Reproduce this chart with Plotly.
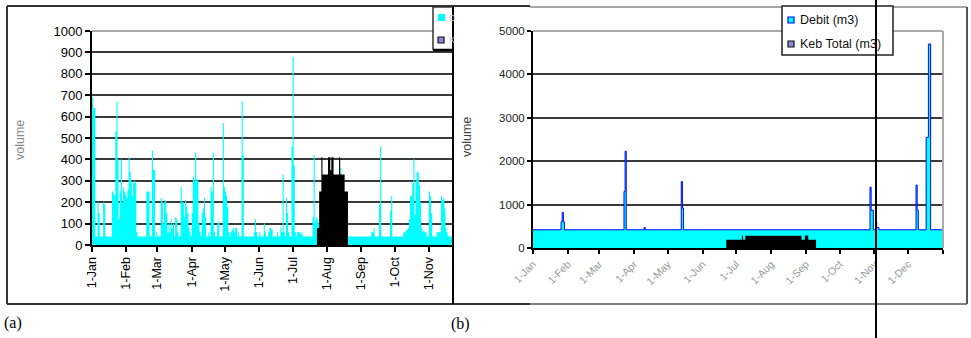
import plotly.graph_objects as go
import pandas as pd

W, H = 971, 338

# ---------------- Panel (a): daily volumes from 1-Jan ----------------
a_start = "2001-01-01"
a_debit = (
    # Jan
    [690, 640, 640, 40, 40, 200, 150, 40, 40, 40, 200, 190, 40, 40, 40, 40, 40, 40,
     250, 240, 230, 530, 670, 400, 120, 250, 400, 200, 270, 250, 240]
    # Feb
    + [220, 260, 410, 340, 300, 230, 290, 300, 290, 60, 40, 40, 40, 40, 40, 40, 40, 40,
       250, 250, 250, 40, 40, 440, 350, 350, 40, 60]
    # Mar
    + [40, 40, 40, 220, 200, 100, 200, 210, 150, 60, 100, 60, 120, 80, 100, 40, 130, 120,
       60, 40, 40, 270, 200, 200, 130, 210, 180, 150, 80, 60, 40]
    # Apr
    + [150, 320, 300, 430, 310, 300, 100, 60, 40, 150, 170, 220, 130, 40, 40, 60, 40, 270,
       250, 430, 60, 40, 40, 100, 110, 40, 40, 40, 570, 270]
    # May
    + [250, 230, 180, 60, 40, 60, 70, 80, 60, 80, 80, 40, 60, 40, 40, 670, 420, 40, 40, 40,
       40, 40, 40, 40, 40, 40, 60, 120, 60, 40, 40]
    # Jun
    + [60, 40, 40, 40, 100, 60, 40, 40, 60, 80, 80, 70, 40, 40, 40, 40, 60, 40, 40, 80, 60,
       330, 60, 40, 220, 150, 60, 40, 40, 460]
    # Jul
    + [880, 370, 60, 40, 60, 60, 60, 50, 60, 40, 40, 40, 40, 40, 40, 40, 40, 40, 130, 420,
       110, 130, 120, 100, 40, 40, 40, 40, 40, 40, 40]
    # Aug
    + [40, 40, 40, 40, 40, 40, 40, 40, 40, 40, 40, 40, 360, 40, 40, 40, 40, 40, 40, 40, 40,
       40, 40, 40, 40, 40, 40, 40, 40, 40, 40]
    # Sep
    + [40, 40, 40, 40, 40, 40, 40, 40, 40, 60, 60, 80, 40, 40, 40, 40, 190, 460, 40, 40, 40,
       40, 40, 40, 40, 40, 160, 230, 40, 40]
    # Oct
    + [40, 40, 40, 40, 40, 40, 40, 40, 60, 60, 70, 70, 80, 120, 230, 230, 290, 400, 140, 300,
       340, 340, 280, 200, 80, 60, 70, 60, 60, 40, 40]
    # Nov (visible part)
    + [250, 230, 150, 40, 40, 40, 40, 60, 60, 60, 60, 230, 210, 220, 170, 80, 60, 40, 40, 40,
       40, 40]
)
a_keb_start = "2001-07-23"
a_keb = [80, 80, 250, 250, 410, 330, 330, 330, 330, 330, 410, 410, 350, 410, 410, 330, 330,
         330, 330, 330, 410, 330, 330, 330, 330, 250, 250, 250]

a_tick_dates = ["2001-01-01", "2001-02-01", "2001-03-01", "2001-04-01", "2001-05-01",
                "2001-06-01", "2001-07-01", "2001-08-01", "2001-09-01", "2001-10-01",
                "2001-11-01"]
a_tick_labels = ["1-Jan", "1-Feb", "1-Mar", "1-Apr", "1-May", "1-Jun", "1-Jul", "1-Aug",
                 "1-Sep", "1-Oct", "1-Nov"]

# ---------------- Panel (b): change points of step series ----------------
b_debit_dates = ["2001-01-01", "2001-01-26", "2001-01-27", "2001-01-28", "2001-01-29",
                 "2001-03-23", "2001-03-24", "2001-03-25", "2001-04-10", "2001-04-11",
                 "2001-05-13", "2001-05-14", "2001-05-15", "2001-10-28", "2001-10-29",
                 "2001-10-31", "2001-11-02", "2001-11-03", "2001-11-05", "2001-12-08",
                 "2001-12-09", "2001-12-10", "2001-12-17", "2001-12-19", "2001-12-21",
                 "2002-01-01"]
b_debit_vals = [420, 600, 820, 600, 420, 1300, 2230, 420, 470, 420, 1530, 920, 420, 1400,
                870, 420, 600, 470, 420, 1450, 870, 420, 2550, 4700, 420, 420]
b_keb_dates = ["2001-06-22", "2001-07-06", "2001-07-07", "2001-07-09", "2001-08-28",
               "2001-08-31", "2001-09-03", "2001-09-10"]
b_keb_vals = [190, 290, 190, 280, 190, 290, 190, 0]

b_tick_dates = ["2001-01-01", "2001-02-01", "2001-03-01", "2001-04-01", "2001-05-01",
                "2001-06-01", "2001-07-01", "2001-08-01", "2001-09-01", "2001-10-01",
                "2001-11-01", "2001-12-01", "2002-01-01"]
b_tick_labels = ["1-Jan", "1-Feb", "1-Mar", "1-Apr", "1-May", "1-Jun", "1-Jul", "1-Aug",
                 "1-Sep", "1-Oct", "1-Nov", "1-Dec", ""]

legend_names = ["Debit (m3)", "Keb Total (m3)"]


def px(x):
    return x / W


def py(y):
    return 1 - y / H


def daily_step(start, vals):
    d = pd.date_range(start, periods=len(vals) + 1, freq="D")
    return list(d), list(vals) + [vals[-1]]


fig = go.Figure()

# panel (a)
xa, ya = daily_step(a_start, a_debit)
fig.add_trace(go.Scatter(x=xa, y=ya, mode="lines", line=dict(width=0, shape="hv"),
                         fill="tozeroy", fillcolor="#00FFFF", xaxis="x", yaxis="y",
                         showlegend=False, hoverinfo="skip"))
xk, yk = daily_step(a_keb_start, a_keb)
fig.add_trace(go.Scatter(x=xk, y=yk, mode="lines", line=dict(width=0, shape="hv"),
                         fill="tozeroy", fillcolor="#000000", xaxis="x", yaxis="y",
                         showlegend=False, hoverinfo="skip"))

# panel (b)
fig.add_trace(go.Scatter(x=pd.to_datetime(b_debit_dates), y=b_debit_vals, mode="lines",
                         line=dict(width=1, shape="hv", color="#0000FF"),
                         fill="tozeroy", fillcolor="#00FFFF", xaxis="x2", yaxis="y2",
                         showlegend=False, hoverinfo="skip"))
fig.add_trace(go.Scatter(x=pd.to_datetime(b_keb_dates), y=b_keb_vals, mode="lines",
                         line=dict(width=0, shape="hv"),
                         fill="tozeroy", fillcolor="#000000", xaxis="x2", yaxis="y2",
                         showlegend=False, hoverinfo="skip"))

FONT = "Liberation Sans, Arial, sans-serif"

fig.update_layout(
    width=W, height=H,
    margin=dict(l=0, r=0, t=0, b=0, autoexpand=False),
    paper_bgcolor="white", plot_bgcolor="white",
    showlegend=False,
    font=dict(family=FONT, color="black"),
    xaxis=dict(type="date", domain=[px(92), px(453)], automargin=False,
               range=["2001-01-01", "2001-11-22 19:00"], anchor="y",
               tickmode="array", tickvals=a_tick_dates, ticktext=a_tick_labels,
               tickangle=-90, ticks="outside", ticklen=5, tickwidth=1.5, tickcolor="black",
               showline=True, linecolor="black", linewidth=2, showgrid=False, zeroline=False,
               tickfont=dict(size=12.5, color="black", family=FONT)),
    yaxis=dict(domain=[py(245), py(31)], range=[0, 1000], dtick=100, anchor="x",
               automargin=False,
               ticks="outside", ticklen=5, tickwidth=1.5, tickcolor="black",
               showline=True, linecolor="black", linewidth=2,
               showgrid=True, gridcolor="#3a3a3a", gridwidth=2, zeroline=False,
               tickfont=dict(size=13, color="black", family=FONT)),
    xaxis2=dict(type="date", domain=[px(533), px(943)], automargin=False,
                range=["2001-01-01", "2002-01-01"], anchor="y2",
                tickmode="array", tickvals=b_tick_dates, ticktext=b_tick_labels,
                tickangle=-45, ticks="outside", ticklen=4, tickwidth=1.5, tickcolor="black",
                showline=True, linecolor="black", linewidth=2, showgrid=False, zeroline=False,
                tickfont=dict(size=10.5, color="#999999", family=FONT)),
    yaxis2=dict(domain=[py(248), py(31)], range=[0, 5000], dtick=1000, anchor="x2",
                automargin=False,
                ticks="outside", ticklen=4, tickwidth=1.5, tickcolor="black",
                showline=True, linecolor="black", linewidth=2,
                showgrid=True, gridcolor="#3a3a3a", gridwidth=2, zeroline=False,
                tickfont=dict(size=11.5, color="#222222", family=FONT)),
)

shapes = []
# panel (a) frame (top/bottom lines run under panel (b) edge)
shapes.append(dict(type="line", xref="paper", yref="paper", x0=px(7), x1=px(530),
                   y0=py(6), y1=py(6), line=dict(color="#333333", width=2)))
shapes.append(dict(type="line", xref="paper", yref="paper", x0=px(7), x1=px(530),
                   y0=py(304), y1=py(304), line=dict(color="#333333", width=2)))
shapes.append(dict(type="line", xref="paper", yref="paper", x0=px(7), x1=px(7),
                   y0=py(6), y1=py(304), line=dict(color="#333333", width=2)))
# panel (a) top of plot area (light grey)
shapes.append(dict(type="line", xref="paper", yref="paper", x0=px(92), x1=px(453),
                   y0=py(31), y1=py(31), line=dict(color="#aaaaaa", width=2)))
# panel (b) frame
shapes.append(dict(type="line", xref="paper", yref="paper", x0=px(530), x1=px(967),
                   y0=py(7), y1=py(7), line=dict(color="#888888", width=1.5)))
shapes.append(dict(type="line", xref="paper", yref="paper", x0=px(967), x1=px(967),
                   y0=py(7), y1=py(304), line=dict(color="#555555", width=2)))
shapes.append(dict(type="line", xref="paper", yref="paper", x0=px(530), x1=px(967),
                   y0=py(304), y1=py(304), line=dict(color="#555555", width=1.5)))
shapes.append(dict(type="line", xref="paper", yref="paper", x0=px(453), x1=px(453),
                   y0=py(6), y1=py(304), line=dict(color="#000000", width=2)))
# panel (b) plot-area border (grey) top and right
shapes.append(dict(type="line", xref="paper", yref="paper", x0=px(533), x1=px(943),
                   y0=py(31), y1=py(31), line=dict(color="#aaaaaa", width=2)))
shapes.append(dict(type="line", xref="paper", yref="paper", x0=px(943), x1=px(943),
                   y0=py(31), y1=py(248), line=dict(color="#aaaaaa", width=2)))

# panel (a) clipped legend
shapes.append(dict(type="rect", xref="paper", yref="paper", x0=px(433), x1=px(452),
                   y0=py(50), y1=py(7), fillcolor="white", line=dict(width=0)))
shapes.append(dict(type="line", xref="paper", yref="paper", x0=px(433), x1=px(433),
                   y0=py(7), y1=py(50), line=dict(color="#333333", width=1.5)))
shapes.append(dict(type="line", xref="paper", yref="paper", x0=px(433), x1=px(453),
                   y0=py(7), y1=py(7), line=dict(color="#333333", width=1.5)))
shapes.append(dict(type="line", xref="paper", yref="paper", x0=px(433), x1=px(453),
                   y0=py(50), y1=py(50), line=dict(color="#000000", width=2.5)))
shapes.append(dict(type="rect", xref="paper", yref="paper", x0=px(438), x1=px(445),
                   y0=py(21), y1=py(14), fillcolor="#00FFFF", line=dict(width=0)))
shapes.append(dict(type="rect", xref="paper", yref="paper", x0=px(438), x1=px(444),
                   y0=py(43), y1=py(37), fillcolor="#8888dd",
                   line=dict(color="#111111", width=1.2)))

# panel (b) legend
shapes.append(dict(type="rect", xref="paper", yref="paper", x0=px(782), x1=px(893),
                   y0=py(55), y1=py(6), fillcolor="white",
                   line=dict(color="#222222", width=1.5)))
shapes.append(dict(type="rect", xref="paper", yref="paper", x0=px(788), x1=px(794),
                   y0=py(23), y1=py(17), fillcolor="#00FFFF",
                   line=dict(color="#0000FF", width=1.2)))
shapes.append(dict(type="rect", xref="paper", yref="paper", x0=px(788), x1=px(794),
                   y0=py(47), y1=py(41), fillcolor="#8888dd",
                   line=dict(color="#111111", width=1.2)))

# stray vertical line across the page
shapes.append(dict(type="line", xref="paper", yref="paper", x0=px(876), x1=px(876),
                   y0=py(0), y1=py(338), line=dict(color="#000000", width=2)))

fig.update_layout(shapes=shapes)

ann = []
ann.append(dict(text="volume", xref="paper", yref="paper", x=px(20), y=py(140),
                textangle=-90, showarrow=False, font=dict(size=12.5, color="#888888", family=FONT),
                xanchor="center", yanchor="middle"))
ann.append(dict(text="volume", xref="paper", yref="paper", x=px(467), y=py(137),
                textangle=-90, showarrow=False, font=dict(size=12.5, color="#444444", family=FONT),
                xanchor="center", yanchor="middle"))
ann.append(dict(text=legend_names[0], xref="paper", yref="paper", x=px(798), y=py(20),
                showarrow=False, xanchor="left", yanchor="middle",
                font=dict(size=12.5, color="#111111", family=FONT)))
ann.append(dict(text=legend_names[1], xref="paper", yref="paper", x=px(798), y=py(44),
                showarrow=False, xanchor="left", yanchor="middle",
                font=dict(size=12.5, color="#111111", family=FONT)))
ann.append(dict(text="D", xref="paper", yref="paper", x=px(447), y=py(18),
                showarrow=False, xanchor="left", yanchor="middle",
                font=dict(size=9, color="#cccccc", family=FONT)))
ann.append(dict(text="K", xref="paper", yref="paper", x=px(447), y=py(40),
                showarrow=False, xanchor="left", yanchor="middle",
                font=dict(size=9, color="#cccccc", family=FONT)))
ann.append(dict(text="(a)", xref="paper", yref="paper", x=px(2), y=py(323),
                showarrow=False, xanchor="left", yanchor="middle",
                font=dict(size=16, color="black", family="Liberation Serif, Times New Roman, serif")))
ann.append(dict(text="(b)", xref="paper", yref="paper", x=px(449), y=py(324),
                showarrow=False, xanchor="left", yanchor="middle",
                font=dict(size=16, color="black", family="Liberation Serif, Times New Roman, serif")))
fig.update_layout(annotations=ann)

fig.write_html(
    "out.html",
    config={"displayModeBar": False},
    post_script="document.body.style.margin='0';document.body.style.padding='0';"
                "document.body.style.overflow='hidden';",
)
